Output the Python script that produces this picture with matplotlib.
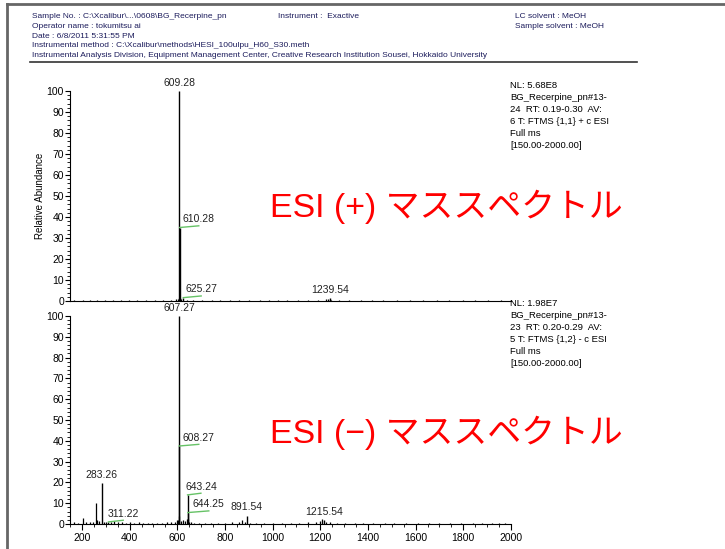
import matplotlib.pyplot as plt
from matplotlib.lines import Line2D
from matplotlib.ticker import MultipleLocator

plt.rcParams["font.family"] = ["Liberation Sans", "DejaVu Sans"]

# ESI(+) spectrum: labelled peaks and minor baseline peaks (m/z, relative abundance)
pos_label_mz = [609.28, 610.28, 625.27, 1239.54]
pos_label_int = [100.0, 35.0, 1.6, 1.4]
pos_minor_mz = [168, 205, 232, 262, 296, 330, 365, 398, 431, 470, 505, 541, 573, 596, 603, 607.27,
                611.3, 617, 640, 668, 702, 745, 781, 820, 858, 903, 947, 985, 1024, 1062, 1105,
                1148, 1190, 1226, 1234, 1241, 1244, 1280, 1322, 1370, 1415, 1462, 1520, 1575,
                1630, 1688, 1741, 1800, 1850, 1905, 1960]
pos_minor_int = [0.5, 0.6, 0.4, 0.5, 0.4, 0.5, 0.3, 0.6, 0.4, 0.4, 0.5, 0.5, 0.6, 0.8, 1.0, 1.2,
                 1.3, 0.8, 0.6, 0.5, 0.4, 0.5, 0.4, 0.3, 0.4, 0.3, 0.4, 0.3, 0.4, 0.3, 0.4,
                 0.3, 0.4, 0.8, 1.0, 0.9, 0.7, 0.4, 0.3, 0.4, 0.3, 0.3, 0.4, 0.3,
                 0.3, 0.4, 0.3, 0.3, 0.4, 0.3, 0.3]

# ESI(-) spectrum
neg_label_mz = [607.27, 608.27, 643.24, 644.25, 283.26, 311.22, 891.54, 1215.54]
neg_label_int = [100.0, 37.5, 14.0, 5.5, 19.5, 1.0, 4.0, 2.0]
neg_minor_mz = [165, 184, 204, 218, 233, 247, 259, 264, 270, 292, 300, 322, 335, 352, 368, 385,
                401, 420, 441, 458, 477, 496, 515, 535, 556, 575, 592, 600, 604, 609.3, 617,
                625, 634, 641, 646, 650, 658, 672, 690, 715, 742, 770, 800, 830, 861, 872,
                884, 905, 930, 965, 1000, 1040, 1075, 1110, 1150, 1180, 1200, 1209, 1222,
                1240, 1270, 1305, 1345, 1380, 1420, 1470, 1510, 1560, 1610, 1655, 1700,
                1745, 1790, 1840, 1880, 1920, 1950, 1975]
neg_minor_int = [0.8, 0.6, 3.0, 0.8, 1.0, 1.2, 10.3, 2.0, 1.5, 1.0, 0.8, 1.0, 1.5, 0.8, 1.0, 0.6,
                 0.8, 0.6, 0.8, 0.6, 0.7, 0.6, 0.6, 0.7, 0.8, 0.9, 1.2, 1.8, 2.0, 4.0, 1.5,
                 2.0, 1.6, 2.5, 2.2, 1.2, 0.8, 0.7, 0.6, 0.7, 0.5, 0.6, 0.6, 0.8, 1.2, 2.0,
                 1.0, 0.6, 0.5, 0.6, 0.5, 0.7, 0.5, 0.6, 0.8, 1.0, 1.5, 2.5, 1.2,
                 0.8, 0.6, 0.5, 0.6, 0.5, 0.5, 0.6, 0.5, 0.5, 0.6, 0.5, 0.6,
                 0.5, 0.6, 0.5, 0.5, 0.6, 0.5, 0.6]

# peaks whose label is pushed sideways with a green leader line (shift in m/z units)
pos_callouts = {610.28: 80, 625.27: 75}
neg_callouts = {608.27: 82, 643.24: 56, 644.25: 88, 311.22: 62}

pos_info = ["NL: 5.68E8", "BG_Recerpine_pn#13-", "24  RT: 0.19-0.30  AV:",
            "6 T: FTMS {1,1} + c ESI", "Full ms", "[150.00-2000.00]"]
neg_info = ["NL: 1.98E7", "BG_Recerpine_pn#13-", "23  RT: 0.20-0.29  AV:",
            "5 T: FTMS {1,2} - c ESI", "Full ms", "[150.00-2000.00]"]

header_rows = [
    ("Sample No. : C:\\Xcalibur\\...\\0608\\BG_Recerpine_pn", "Instrument :  Exactive", "LC solvent : MeOH"),
    ("Operator name : tokumitsu ai", "", "Sample solvent : MeOH"),
    ("Date : 6/8/2011 5:31:55 PM", "", ""),
    ("Instrumental method : C:\\Xcalibur\\methods\\HESI_100ulpu_H60_S30.meth", "", ""),
    ("Instrumental Analysis Division, Equipment Management Center, Creative Research Institution Sousei, Hokkaido University", "", ""),
]

W, H = 725, 549
fig = plt.figure(figsize=(W / 100, H / 100), dpi=100)


def fx(px):
    return px / W


def fy(py):
    return 1 - py / H


ax_pos = fig.add_axes([fx(70), fy(301), fx(511) - fx(70), fy(91) - fy(301)])
ax_neg = fig.add_axes([fx(70), fy(524), fx(511) - fx(70), fy(316) - fy(524)])


def draw_spectrum(ax, lab_mz, lab_int, minor_mz, minor_int, callouts):
    ax.vlines(minor_mz, 0, minor_int, color="black", lw=0.9)
    ax.vlines(lab_mz, 0, lab_int, color="black", lw=1.0)
    for mz, inten in zip(lab_mz, lab_int):
        txt = f"{mz:.2f}"
        if mz in callouts:
            x_end = mz + callouts[mz]
            ax.plot([mz, x_end], [inten, inten + 0.8], color="#66c266", lw=1.0, clip_on=False)
            ax.text(x_end, inten + 1.6, txt, ha="center", va="bottom", fontsize=7.5,
                    color="#222222", clip_on=False)
        else:
            ax.text(mz, inten + 1.6, txt, ha="center", va="bottom", fontsize=7.5,
                    color="#222222", clip_on=False)
    ax.set_xlim(150, 2000)
    ax.set_ylim(0, 100)
    ax.spines[["top", "right"]].set_visible(False)
    ax.yaxis.set_major_locator(MultipleLocator(10))
    ax.yaxis.set_minor_locator(MultipleLocator(2))
    ax.tick_params(axis="y", which="major", length=3.8, width=0.8, labelsize=7.5, pad=0.5)
    ax.tick_params(axis="y", which="minor", length=2.2, width=0.6)


draw_spectrum(ax_pos, pos_label_mz, pos_label_int, pos_minor_mz, pos_minor_int, pos_callouts)
draw_spectrum(ax_neg, neg_label_mz, neg_label_int, neg_minor_mz, neg_minor_int, neg_callouts)

ax_pos.tick_params(axis="x", which="both", bottom=False, labelbottom=False)
ax_neg.xaxis.set_major_locator(MultipleLocator(200))
ax_neg.xaxis.set_minor_locator(MultipleLocator(50))
ax_neg.tick_params(axis="x", which="major", length=4.5, width=0.8, labelsize=7.5, pad=2)
ax_neg.tick_params(axis="x", which="minor", length=2.5, width=0.6)
ax_neg.set_xticks(range(200, 2001, 200))

ax_pos.set_ylabel("Relative Abundance", fontsize=7, labelpad=1)

for i, line in enumerate(pos_info):
    fig.text(fx(510), fy(85 + i * 12), line, fontsize=6.8, va="center", ha="left")
for i, line in enumerate(neg_info):
    fig.text(fx(510), fy(303 + i * 12), line, fontsize=6.8, va="center", ha="left")

# red titles
title_family = ["Liberation Sans", "Noto Sans CJK JP", "DejaVu Sans"]
fig.text(fx(270), fy(207), "ESI (+) マススペクトル", fontsize=24.4, color="red", va="center",
         family=title_family)
fig.text(fx(270), fy(433), "ESI (\u2212) マススペクトル", fontsize=24.4, color="red", va="center",
         family=title_family)

# report header
cols = [32, 278, 515]
for r, row in enumerate(header_rows):
    y = 17 + r * 9.6
    for c, txt in enumerate(row):
        if txt:
            fig.text(fx(cols[c]), fy(y), txt, fontsize=6, va="center", ha="left", color="#1c1c5c")
fig.add_artist(Line2D([fx(30), fx(637)], [fy(62), fy(62)], color="#333333", lw=1.2))

# page frame
fig.add_artist(Line2D([fx(7), fx(725)], [fy(4), fy(4)], color="#666666", lw=2))
fig.add_artist(Line2D([fx(7), fx(7)], [fy(4), fy(549)], color="#666666", lw=2))

fig.savefig("out.png", dpi=100)
